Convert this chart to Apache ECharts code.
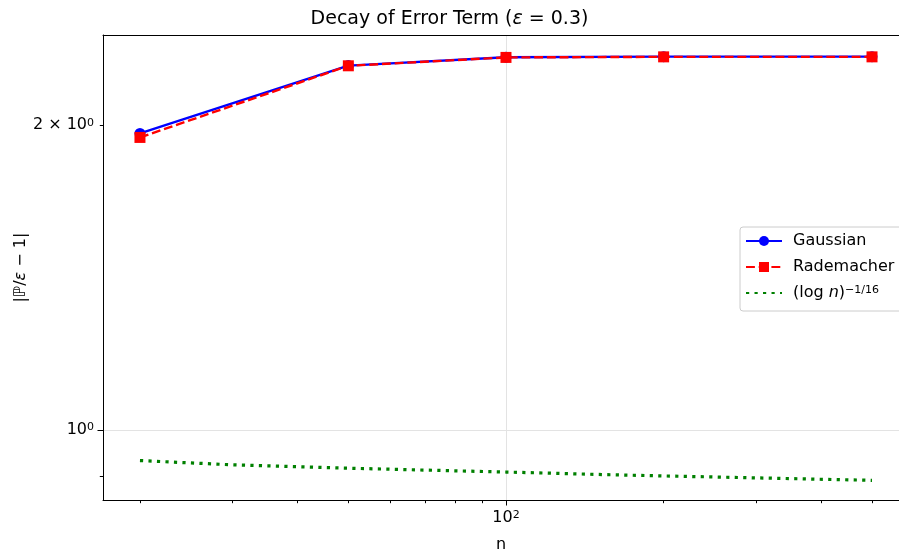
<!DOCTYPE html>
<html>
<head>
<meta charset="utf-8">
<script src="https://cdn.jsdelivr.net/npm/echarts@6/dist/echarts.min.js"></script>
<style>html,body{margin:0;padding:0;background:#fff;}#c{width:899px;height:554px;}</style>
</head>
<body>
<div id="c"></div>
<script>
// ---- data ----
var nValues = [20, 50, 100, 200, 500];
var gaussian = [1.963, 2.290, 2.334, 2.337, 2.337];
var rademacher = [1.945, 2.289, 2.333, 2.336, 2.336];
var refN = [20, 30, 50, 70, 100, 150, 200, 300, 500];
var refValues = [0.933, 0.924, 0.917, 0.913, 0.909, 0.904, 0.901, 0.897, 0.892];
var xMajorTicks = [100];
var xMinorTicks = [20, 30, 40, 50, 60, 70, 80, 90, 200, 300, 400, 500];
var yMajorTicks = [1];
var yMinorTicks = [0.9, 2];
var yLabelValues = [1, 2];

function pairs(xs, ys) { return xs.map(function (x, i) { return [x, ys[i]]; }); }

var FONT = 'DejaVu Sans';
var chart = echarts.init(document.getElementById('c'), null, { renderer: 'canvas' });

var xRange = { min: 17.0, max: 563 };
var yRange = { min: 0.853, max: 2.455 };
var supRich = { fontFamily: FONT, fontSize: 11, verticalAlign: 'top', lineHeight: 11, padding: [0, 0, 5, 0], color: '#000' };

var option = {
  backgroundColor: '#ffffff',
  animation: false,
  textStyle: { fontFamily: FONT },
  title: {
    text: 'Decay of Error Term ({i|ε} = 0.3)',
    left: 'center',
    top: 10,
    padding: [0, 0, 0, 114],
    textStyle: {
      fontFamily: FONT, fontSize: 19, fontWeight: 'normal', color: '#000',
      rich: { i: { fontFamily: FONT, fontSize: 19, fontStyle: 'italic', color: '#000' } }
    }
  },
  grid: {
    left: 103, top: 35, right: 0, bottom: 54,
    show: false,
    containLabel: false,
    outerBoundsMode: 'none'
  },
  legend: {
    orient: 'vertical',
    left: 740, top: 227,
    padding: [6, 12, 10, 5],
    itemWidth: 36, itemHeight: 12.5, itemGap: 10,
    backgroundColor: 'rgba(255,255,255,0.8)',
    borderColor: '#cccccc', borderWidth: 1, borderRadius: 3,
    textStyle: {
      fontFamily: FONT, fontSize: 16, color: '#000', padding: [0, 0, 0, 6],
      rich: {
        n: { fontFamily: FONT, fontSize: 16, fontStyle: 'italic', color: '#000' },
        s: supRich
      }
    },
    formatter: function (name) {
      if (name === 'ref') return '(log {n|n}){s|−1/16}';
      return name;
    },
    data: ['Gaussian', 'Rademacher', { name: 'ref', itemStyle: { color: 'rgba(0,0,0,0)', opacity: 0, borderWidth: 0 } }]
  },
  xAxis: [
    {
      type: 'log', logBase: 10, min: xRange.min, max: xRange.max,
      name: 'n', nameLocation: 'middle', nameGap: 37,
      nameTextStyle: { fontFamily: FONT, fontSize: 16, color: '#000' },
      axisLine: { show: true, lineStyle: { color: '#000', width: 1 } },
      axisTick: { show: true, inside: false, length: 5.5, customValues: xMajorTicks, lineStyle: { color: '#000', width: 1 } },
      axisLabel: {
        customValues: xMajorTicks, margin: 10, color: '#000', fontFamily: FONT, fontSize: 16,
        formatter: function () { return '10{s|2}'; },
        rich: { s: supRich }
      },
      splitLine: { show: true, lineStyle: { color: '#e3e3e3', width: 1 } },
      minorTick: { show: false }, minorSplitLine: { show: false }
    },
    {
      type: 'log', logBase: 10, min: xRange.min, max: xRange.max, position: 'bottom',
      axisLine: { show: false },
      axisTick: { show: true, inside: false, length: 3.2, customValues: xMinorTicks, lineStyle: { color: '#000', width: 1 } },
      axisLabel: { show: false },
      splitLine: { show: false }
    },
    {
      type: 'log', logBase: 10, min: xRange.min, max: xRange.max, position: 'top',
      axisLine: { show: true, lineStyle: { color: '#000', width: 1 } },
      axisTick: { show: false },
      axisLabel: { show: false },
      splitLine: { show: false }
    }
  ],
  yAxis: [
    {
      type: 'log', logBase: 10, min: yRange.min, max: yRange.max,
      name: '|ℙ/{i|ε} − 1|', nameLocation: 'middle', nameGap: 74, nameRotate: 90,
      nameMoveOverlap: false,
      nameTextStyle: {
        fontFamily: FONT, fontSize: 16, color: '#000',
        rich: { i: { fontFamily: FONT, fontSize: 16, fontStyle: 'italic', color: '#000' } }
      },
      axisLine: { show: true, lineStyle: { color: '#000', width: 1 } },
      axisTick: { show: true, inside: false, length: 5.5, customValues: yMajorTicks, lineStyle: { color: '#000', width: 1 } },
      axisLabel: {
        customValues: yLabelValues, margin: 9, color: '#000', fontFamily: FONT, fontSize: 16,
        formatter: function (v) { return (Math.abs(v - 2) < 1e-9 ? '2 × 10' : '10') + '{s|0}'; },
        rich: { s: supRich }
      },
      splitLine: { show: true, lineStyle: { color: '#e3e3e3', width: 1 } },
      minorTick: { show: false }, minorSplitLine: { show: false }
    },
    {
      type: 'log', logBase: 10, min: yRange.min, max: yRange.max, position: 'left',
      axisLine: { show: false },
      axisTick: { show: true, inside: false, length: 3.2, customValues: yMinorTicks, lineStyle: { color: '#000', width: 1 } },
      axisLabel: { show: false },
      splitLine: { show: false }
    }
  ],
  series: [
    {
      name: 'Gaussian', type: 'line', xAxisIndex: 0, yAxisIndex: 0,
      data: pairs(nValues, gaussian),
      symbol: 'circle', symbolSize: 11, showAllSymbol: true,
      itemStyle: { color: '#0000ff' },
      lineStyle: { color: '#0000ff', width: 2.4, type: 'solid' },
      z: 3
    },
    {
      name: 'Rademacher', type: 'line', xAxisIndex: 0, yAxisIndex: 0,
      data: pairs(nValues, rademacher),
      symbol: 'rect', symbolSize: 11, showAllSymbol: true,
      itemStyle: { color: '#ff0000' },
      lineStyle: { color: '#ff0000', width: 2.4, type: [8.9, 3.8] },
      z: 4
    },
    {
      name: 'ref', type: 'line', xAxisIndex: 0, yAxisIndex: 0,
      data: pairs(refN, refValues),
      symbol: 'none', showSymbol: false,
      itemStyle: { color: '#008000' },
      lineStyle: { color: '#008000', width: 3.2, type: [3.2, 5.3], cap: 'butt' },
      z: 2
    }
  ]
};
chart.setOption(option);
</script>
</body>
</html>
